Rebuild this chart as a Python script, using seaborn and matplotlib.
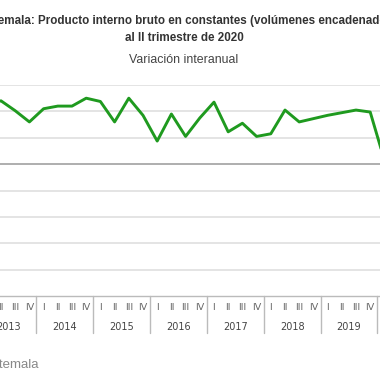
import pandas as pd
import numpy as np
import matplotlib.pyplot as plt
import matplotlib.transforms as mtransforms
import seaborn as sns

# Quarterly year-on-year GDP change, 2013 I .. 2020 II
years = [2013, 2014, 2015, 2016, 2017, 2018, 2019, 2020]
quarters = ['I', 'II', 'III', 'IV']
values = [4.5, 4.8, 4.05, 3.2,
          4.2, 4.4, 4.4, 5.0,
          4.75, 3.2, 5.0, 3.7,
          1.75, 3.8, 2.1, 3.5,
          4.7, 2.45, 3.1, 2.1,
          2.3, 4.1, 3.2, 3.45,
          3.7, 3.9, 4.1, 3.95,
          0.3, -9.9]
y_ticks = [-10, -8, -6, -4, -2, 0, 2, 4, 6]

df = pd.DataFrame({
    'idx': np.arange(len(values)),
    'q': [quarters[i % 4] for i in range(len(values))],
    'valor': values,
})

sns.set_style('white')
plt.rcParams['font.family'] = ['Liberation Sans', 'DejaVu Sans']

fig = plt.figure(figsize=(3.8, 3.8), dpi=100)
ax = fig.add_axes([0, 1 - 296 / 380, 1, (296 - 85) / 380])

# gridlines
for t in y_ticks[1:]:
    ax.axhline(t, color='#999999' if t == 0 else '#dcdcdc', lw=1.1, zorder=1)

sns.lineplot(data=df, x='idx', y='valor', color='#1f9a1f', lw=2.1, ax=ax, zorder=3)

ax.set_xlabel('')
ax.set_ylabel('')
ax.set_yticks([])
for s in ['top', 'left', 'right']:
    ax.spines[s].set_visible(False)
ax.spines['bottom'].set_color('#bbbbbb')
ax.spines['bottom'].set_linewidth(1)

# quarter labels
ax.set_xticks(df['idx'])
ax.set_xticklabels(df['q'], fontsize=6.8, color='#666666', family='DejaVu Sans')
ax.tick_params(axis='x', length=0, pad=5)

# year labels and separators
trans = mtransforms.blended_transform_factory(ax.transData, ax.transAxes)
for k, yr in enumerate(years):
    ax.text(4 * k + 1.5, -0.145, str(yr), transform=trans, ha='center', va='center',
            fontsize=7, color='#444444', family='DejaVu Sans')
    ax.plot([4 * k - 0.5] * 2, [0, -0.175], transform=trans, color='#bbbbbb',
            lw=1, clip_on=False)

# limits last, so the ticks do not widen the view
ax.set_ylim(-10, 6)
ax.set_xlim(0.93, 27.69)

# titles
fig.text(0.484, 1 - 21 / 380,
         'Guatemala: Producto interno bruto en constantes (volúmenes encadenados)',
         ha='center', va='center', fontsize=8.4, fontweight='bold', color='#333333')
fig.text(0.484, 1 - 38 / 380, 'al II trimestre de 2020',
         ha='center', va='center', fontsize=8.4, fontweight='bold', color='#333333')
fig.text(0.484, 1 - 60 / 380, 'Variación interanual',
         ha='center', va='center', fontsize=8.9, color='#444444')

# source note
fig.text(38 / 380, 1 - 365 / 380, 'Fuente: Banco de Guatemala',
         ha='right', va='center', fontsize=9.5, color='#888888')

fig.savefig('out.png', dpi=100)
